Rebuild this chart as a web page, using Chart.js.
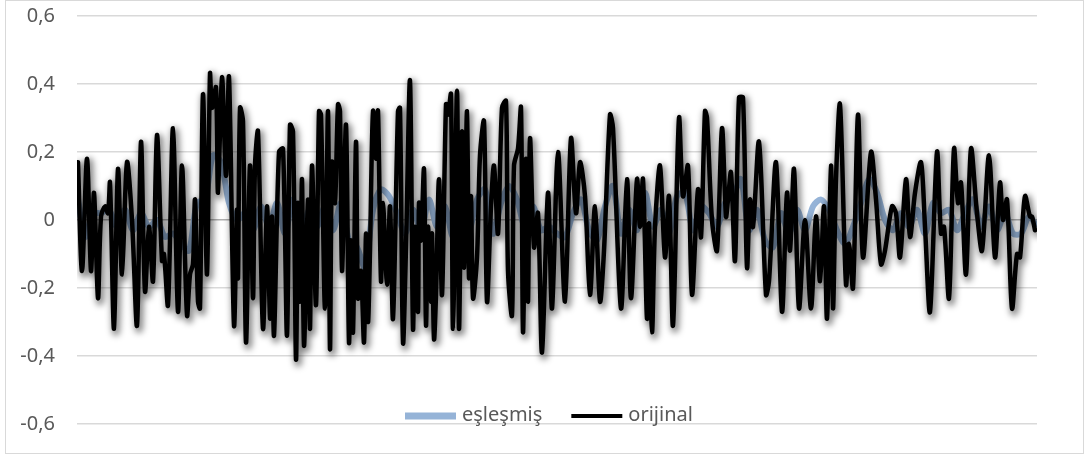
<!DOCTYPE html>
<html>
<head>
<meta charset="utf-8">
<script src="https://cdn.jsdelivr.net/npm/chart.js@4.4.1/dist/chart.umd.min.js"></script>
<style>
  html, body { margin: 0; padding: 0; background: #fff; }
  #frame { position: absolute; left: 5px; top: 0; width: 1079px; height: 454px; border: 1px solid #d9d9d9; box-sizing: border-box; }
  #wrap { position: absolute; left: 0; top: 0; width: 1090px; height: 459px; }
</style>
</head>
<body>
<div id="frame"></div>
<div id="wrap"><canvas id="chart"></canvas></div>
<script>
// sample positions (0..960) and values
const origX = [1,5,10,14,17,21,24,28,31,33,37,41,45,50,55,60,64,68,72,76,80,85,87,91,96,101,105,110,113,116,118,121,123,126,130,133,135,139,141,145,149,152,157,160,161,163,166,169,173,176,178,181,186,190,193,195,197,202,206,210,213,216,219,221,223,225,227,231,233,235,239,242,244,248,251,253,255,258,261,263,265,269,272,274,276,279,281,284,287,289,291,293,296,299,301,304,306,310,313,316,321,323,326,329,333,336,338,341,342,344,347,349,351,354,355,357,359,362,365,369,371,374,376,380,382,385,387,390,392,394,396,400,403,407,410,414,417,421,425,429,431,435,437,441,444,446,449,451,453,457,461,465,471,475,481,488,494,499,503,508,513,518,523,527,533,536,544,550,554,560,563,566,570,572,575,578,583,588,592,596,602,606,611,615,621,624,628,630,635,640,645,649,651,654,658,662,666,670,673,676,682,689,692,699,705,710,713,717,722,728,734,739,743,747,750,754,756,759,763,769,772,776,781,786,794,799,804,808,815,819,823,829,833,838,844,848,853,860,864,867,872,877,881,884,889,894,900,905,912,918,923,926,930,935,940,943,948,953,955,958];
const origY = [0.17,-0.15,0.18,-0.15,0.08,-0.23,0.01,0.04,0.02,0.11,-0.32,0.15,-0.16,0.17,0.0,-0.31,0.23,-0.21,-0.02,-0.18,0.25,-0.12,-0.10,-0.25,0.27,-0.27,0.16,-0.28,-0.16,-0.13,0.06,-0.24,-0.26,0.37,-0.16,0.43,0.33,0.39,0.08,0.42,0.13,0.42,-0.31,0.03,-0.17,0.33,0.29,-0.36,0.16,-0.23,0.16,0.26,-0.32,0.04,-0.29,0.01,-0.34,0.20,0.21,-0.34,0.28,0.26,-0.41,0.05,-0.24,0.12,-0.37,0.06,-0.32,0.16,-0.25,0.32,0.31,-0.26,0.32,-0.38,0.17,0.05,0.34,0.32,-0.15,0.28,-0.36,-0.06,-0.33,0.23,-0.23,-0.15,-0.36,-0.04,-0.30,-0.09,0.32,0.18,0.32,-0.18,0.05,-0.19,0.04,-0.29,0.32,0.33,-0.36,-0.08,0.41,-0.32,-0.02,-0.27,0.05,-0.06,0.15,-0.31,-0.02,-0.24,-0.04,-0.35,-0.22,0.12,-0.22,0.34,0.31,0.37,-0.32,0.38,-0.32,0.26,-0.14,0.32,-0.17,0.07,-0.23,-0.11,0.19,0.29,-0.24,0.04,0.16,-0.04,0.33,0.35,-0.15,-0.28,0.16,0.21,0.33,-0.33,0.18,-0.24,0.24,-0.08,0.02,-0.39,0.08,-0.26,0.20,-0.24,0.24,0.02,0.17,0.07,-0.22,0.04,-0.24,-0.09,0.31,0.27,-0.26,0.12,-0.23,0.12,-0.02,0.12,-0.29,-0.01,-0.33,-0.02,0.16,-0.11,0.07,-0.31,0.30,0.07,0.16,-0.22,0.09,-0.05,0.32,0.30,0.0,-0.09,0.27,0.01,0.06,0.14,-0.12,0.36,0.36,-0.14,0.06,-0.02,0.23,-0.22,-0.18,0.17,-0.27,0.08,-0.09,0.15,-0.26,0.0,-0.26,0.01,-0.18,0.04,-0.29,0.16,-0.26,0.12,0.34,-0.19,-0.07,-0.20,0.31,-0.11,0.20,0.06,-0.13,-0.09,0.04,0.02,-0.11,0.12,-0.05,0.08,0.17,-0.02,-0.27,0.20,-0.04,-0.02,-0.23,0.21,0.05,0.11,-0.16,0.21,0.02,-0.09,0.19,-0.11,0.11,0.0,0.06,-0.26,-0.10,-0.11,0.07,0.01,0.01,-0.03];

const matchX = [0,8,16,24,32,40,48,56,64,72,80,88,96,104,112,120,128,136,144,152,160,168,176,184,192,200,208,216,224,232,240,248,256,264,272,280,288,296,304,312,320,328,336,344,352,360,368,376,384,392,400,408,416,424,432,440,448,456,464,472,480,488,496,504,512,520,528,536,544,552,560,568,576,584,592,600,608,616,624,632,640,648,656,664,672,680,688,696,704,712,720,728,736,744,752,760,768,776,784,792,800,808,816,824,832,840,848,856,864,872,880,888,896,904,912,920,928,936,944,952,960];
const matchY = [0.08,-0.05,0.02,0.02,0.03,-0.02,0.03,-0.03,0.02,-0.02,0.0,-0.05,-0.04,-0.07,-0.09,0.05,0.06,0.19,0.17,0.05,0.0,0.02,-0.03,0.04,-0.02,0.05,-0.04,0.06,-0.05,0.03,-0.02,0.04,-0.03,0.05,-0.06,-0.08,-0.14,0.03,0.09,0.07,0.02,-0.04,0.03,-0.03,0.06,-0.02,0.04,-0.05,0.05,-0.03,0.06,0.09,-0.04,0.05,0.10,0.06,-0.02,0.04,-0.03,-0.02,-0.04,-0.05,0.02,0.06,-0.03,-0.06,0.04,0.10,-0.04,0.03,-0.03,0.08,-0.02,0.03,-0.04,0.07,0.08,-0.03,0.04,0.02,-0.02,0.05,0.07,0.12,-0.03,0.03,-0.06,-0.08,0.02,-0.04,0.03,-0.03,0.04,0.06,0.03,-0.03,-0.07,-0.02,0.05,0.12,0.08,0.0,-0.03,0.02,-0.02,0.03,-0.04,0.05,0.02,0.03,-0.03,0.02,0.06,-0.02,0.04,-0.03,0.02,-0.04,-0.04,0.01,-0.02];

const yTicks = [-0.6, -0.4, -0.2, 0, 0.2, 0.4, 0.6];
const seriesNames = ['eşleşmiş', 'orijinal'];

const FONT = 'Noto Sans';
const TEXT = '#595959';
const BLUE = '#95b3d7';

// soft drop shadow under the black series, like the office chart effect
const shadowPlugin = {
  id: 'lineShadow',
  beforeDatasetDraw(chart, args) {
    if (args.index !== 1) return;
    const line = args.meta.dataset;
    const a = chart.chartArea;
    const c = chart.ctx;
    line.updateControlPoints(a, 'x');
    c.save();
    c.beginPath();
    c.rect(a.left, a.top, a.right - a.left, a.bottom - a.top);
    c.clip();
    c.translate(2, 3);
    c.filter = 'blur(3px)';
    c.lineJoin = 'round';
    c.lineCap = 'round';
    c.strokeStyle = 'rgba(0,0,0,0.45)';
    c.lineWidth = 8;
    c.beginPath();
    line.path(c);
    c.stroke();
    c.restore();
  }
};

// legend sits inside the plot, just above the lowest gridline
const legendPlugin = {
  id: 'innerLegend',
  afterDraw(chart) {
    const c = chart.ctx;
    const y = 416;
    c.save();
    c.font = `20px "${FONT}"`;
    c.textBaseline = 'middle';
    c.fillStyle = TEXT;
    let x = 405;
    chart.data.datasets.forEach((ds, i) => {
      c.strokeStyle = ds.borderColor;
      c.lineWidth = i === 0 ? 7 : 4;
      c.beginPath();
      c.moveTo(x, y);
      c.lineTo(x + 51, y);
      c.stroke();
      x += 57;
      c.fillText(ds.label, x, y - 1);
      x += c.measureText(ds.label).width + 29;
    });
    c.restore();
  }
};

new Chart(document.getElementById('chart'), {
  type: 'line',
  data: {
    datasets: [{
      label: seriesNames[0],
      data: matchX.map((x, i) => ({ x, y: matchY[i] })),
      borderColor: BLUE,
      borderWidth: 6,
      pointRadius: 0,
      tension: 0.3,
      order: 1,
    }, {
      label: seriesNames[1],
      data: origX.map((x, i) => ({ x, y: origY[i] })),
      borderColor: '#000000',
      borderWidth: 4.5,
      pointRadius: 0,
      tension: 0.3,
      borderJoinStyle: 'round',
      borderCapStyle: 'round',
      order: 0,
    }]
  },
  options: {
    responsive: true, maintainAspectRatio: false, animation: false,
    layout: { padding: { top: 16, right: 53, bottom: 35, left: 0 } },
    scales: {
      x: { type: 'linear', min: 0, max: 960, display: false },
      y: {
        min: -0.6, max: 0.6,
        afterBuildTicks(s) { s.ticks = yTicks.map(v => ({ value: v })); },
        afterFit(s) { s.width = 77; s.paddingTop = 0; s.paddingBottom = 0; },
        ticks: {
          padding: 22, color: TEXT, font: { family: FONT, size: 20 },
          callback: v => Math.abs(v) < 1e-9 ? '0' : v.toFixed(1).replace('.', ',')
        },
        grid: {
          color: ctx => Math.abs(ctx.tick.value) < 1e-9 ? '#b0b0b0' : '#d9d9d9',
          lineWidth: 1.5, drawTicks: false
        },
        border: { display: false }
      }
    },
    plugins: { legend: { display: false }, tooltip: { enabled: false } }
  },
  plugins: [shadowPlugin, legendPlugin]
});
</script>
</body>
</html>
